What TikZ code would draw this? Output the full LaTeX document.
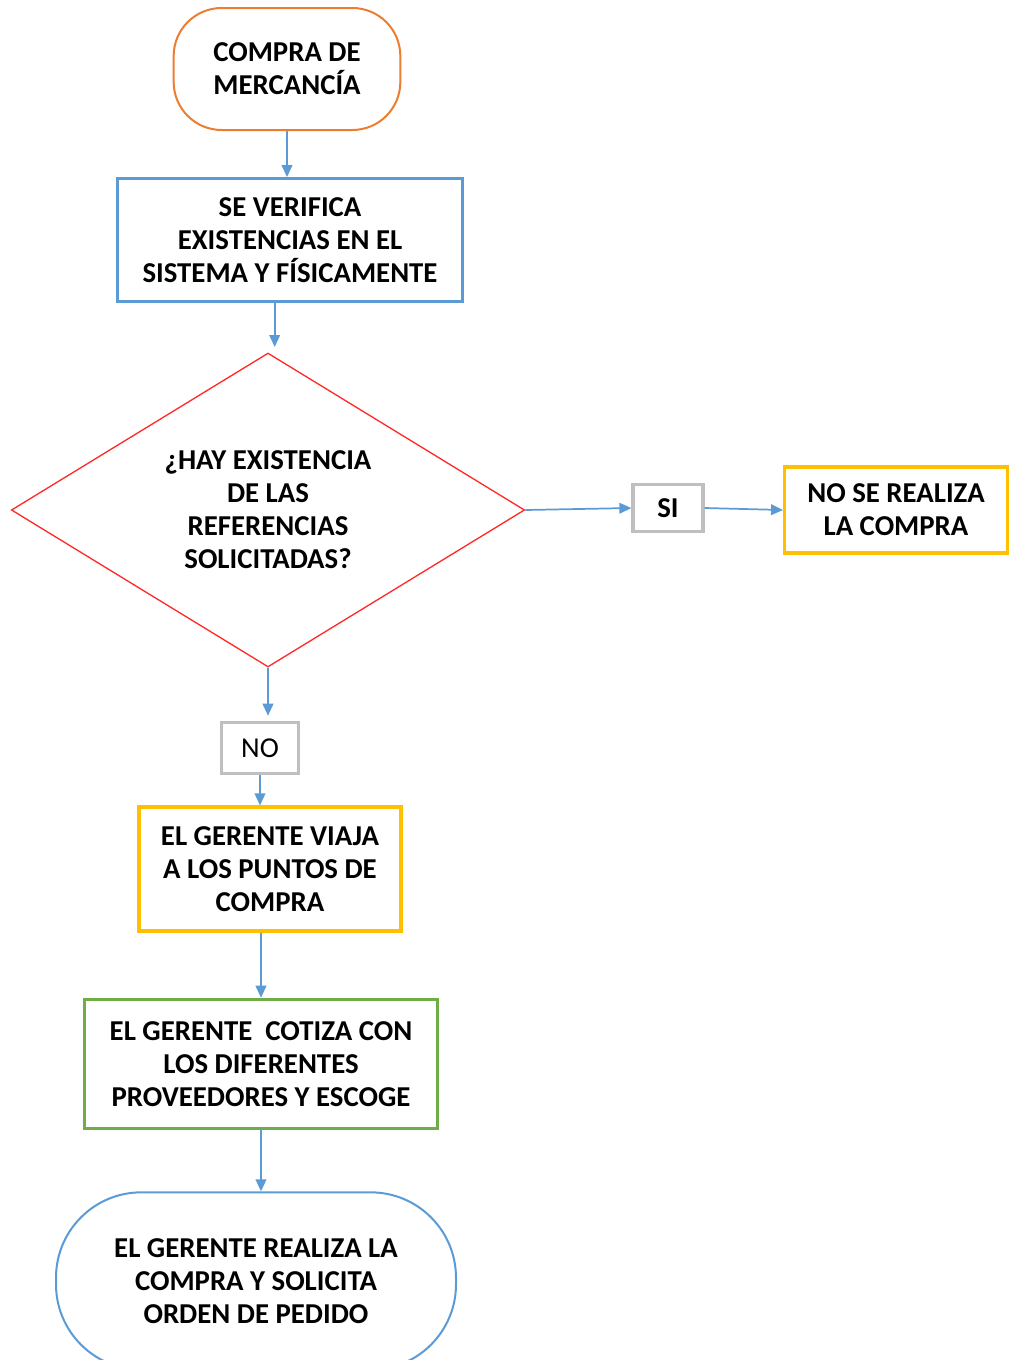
\documentclass[tikz,border=0pt]{standalone}
\usepackage{fontspec}
\setmainfont{Carlito}
\usetikzlibrary{shapes.geometric,arrows.meta,positioning}

\definecolor{naranja}{HTML}{ED7D31}
\definecolor{azul}{HTML}{5B9BD5}
\definecolor{rojo}{HTML}{FF2A2A}
\definecolor{gris}{HTML}{BFBFBF}
\definecolor{amarillo}{HTML}{FFC000}
\definecolor{verde}{HTML}{70AD47}

\tikzset{
  texto/.style={font=\fontsize{21.6}{24.75}\selectfont\bfseries, align=center, inner sep=0pt},
  inicio/.style={texto, draw=naranja, line width=1.5pt, rounded corners=36pt,
    minimum width=170pt, minimum height=91.5pt},
  fin/.style={texto, draw=azul, line width=1.5pt, rounded corners=64pt,
    minimum width=300pt, minimum height=133pt},
  proceso/.style={texto, line width=2.4pt},
  decision/.style={texto, diamond, aspect=1.63, draw=rojo, line width=1pt,
    minimum width=385pt, minimum height=235.5pt},
  etiqueta/.style={texto, draw=gris, line width=2.4pt},
  flecha/.style={draw=azul, line width=1.3pt, -{Triangle[length=9pt,width=8pt]}}
}

\begin{document}
\begin{tikzpicture}[x=0.75pt, y=-0.75pt]
    \useasboundingbox (0,0) rectangle (1016,1360);

    % Inicio
    \node[inicio] (compra) at (287,69) {COMPRA DE\\MERCANCÍA};

    % Verificacion
    \node[proceso, draw=azul, minimum width=259pt, minimum height=92pt] (verifica) at (290,240)
        {SE VERIFICA\\EXISTENCIAS EN EL\\SISTEMA Y FÍSICAMENTE};

    % Decision
    \node[decision] (pregunta) at (268,510)
        {¿HAY EXISTENCIA\\DE LAS\\REFERENCIAS\\SOLICITADAS?};

    % Rama SI
    \node[etiqueta, minimum width=52.5pt, minimum height=35pt] (si) at (668,508) {SI};
    \node[proceso, draw=amarillo, minimum width=167pt, minimum height=64.5pt] (noreal) at (896,510)
        {NO SE REALIZA\\LA COMPRA};

    % Rama NO
    \node[etiqueta, font=\fontsize{21.6}{24.75}\selectfont, minimum width=58pt, minimum height=38pt] (no) at (260,748) {NO};
    \node[proceso, draw=amarillo, minimum width=196.5pt, minimum height=93pt] (viaja) at (270,869)
        {EL GERENTE VIAJA\\A LOS PUNTOS DE\\COMPRA};
    \node[proceso, draw=verde, minimum width=265pt, minimum height=97pt] (cotiza) at (261,1064)
        {EL GERENTE~ COTIZA CON\\LOS DIFERENTES\\PROVEEDORES Y ESCOGE};

    % Fin
    \node[fin] (pedido) at (256,1281)
        {EL GERENTE REALIZA LA\\COMPRA Y SOLICITA\\ORDEN DE PEDIDO};

    % Conectores
    \draw[flecha] (compra.south) -- (compra.south |- verifica.north);
    \draw[flecha, shorten >=4pt] ([xshift=5pt]verifica.south -| pregunta.north) -- ([xshift=5pt]pregunta.north);
    \draw[flecha] (pregunta.east) -- (si.west);
    \draw[flecha] (si.east) -- (noreal.west);
    \draw[flecha, shorten >=4pt] (pregunta.south) -- (pregunta.south |- no.north);
    \draw[flecha] (no.south) -- (no.south |- viaja.north);
    \draw[flecha] (cotiza.north |- viaja.south) -- (cotiza.north);
    \draw[flecha] (cotiza.south) -- (cotiza.south |- pedido.north);
\end{tikzpicture}
\end{document}
